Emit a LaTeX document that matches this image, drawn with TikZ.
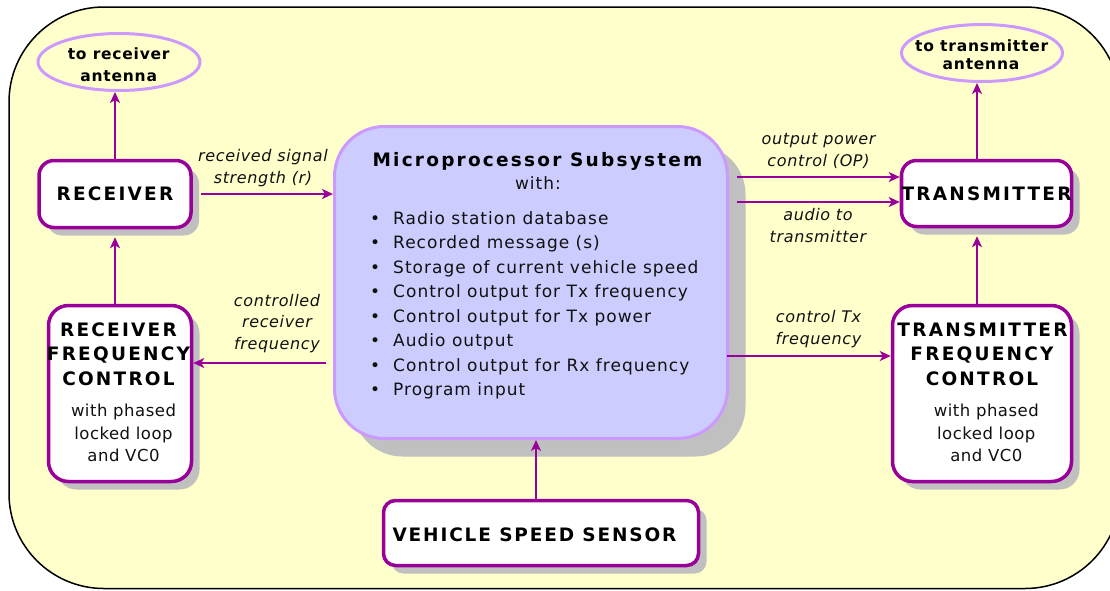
\documentclass[tikz,border=0pt]{standalone}
\usepackage{fontspec}
\setmainfont{DejaVu Sans}
\newfontfamily\bodyfam[LetterSpace=6]{DejaVu Sans}
\newfontfamily\boxfam[LetterSpace=3]{DejaVu Sans}
\newfontfamily\labfam[LetterSpace=4]{DejaVu Sans}
\newfontfamily\antfam[LetterSpace=5]{DejaVu Sans}
\newfontfamily\headfam[LetterSpace=12]{DejaVu Sans}
\newfontfamily\sensfam[LetterSpace=10]{DejaVu Sans}
\usetikzlibrary{shapes.geometric,shadows,arrows.meta}
\definecolor{panelfill}{HTML}{FFFFCC}
\definecolor{boxline}{HTML}{990099}
\definecolor{lilac}{HTML}{CC99FF}
\definecolor{cpufill}{HTML}{CCCCFF}
\definecolor{shade}{HTML}{C0C0C0}
\definecolor{inktext}{HTML}{111111}
\tikzset{
  blk/.style={draw=boxline, line width=3.5pt, fill=white, rounded corners=#1,
    inner sep=0pt,
    drop shadow={shadow xshift=8pt, shadow yshift=-8pt, fill=shade, opacity=1}},
  blk/.default=15pt,
  cpubox/.style={draw=lilac, line width=3pt, fill=cpufill, rounded corners=50pt,
    inner sep=0pt,
    drop shadow={shadow xshift=18pt, shadow yshift=-18pt, fill=shade, opacity=1}},
  ant/.style={ellipse, draw=lilac, line width=3pt, inner sep=0pt},
  conn/.style={draw=boxline, line width=2pt,
    -{Stealth[length=11pt, width=10pt, inset=3pt]}},
  hd/.style={font=\headfam\bfseries\fontsize{18.5}{22}\selectfont, text=black},
  hdl/.style={hd, anchor=base, inner sep=0pt},
  bd/.style={font=\bodyfam\fontsize{17}{20}\selectfont, text=inktext,
    anchor=base, inner sep=0pt},
  bx/.style={font=\boxfam\fontsize{16.5}{20}\selectfont, text=inktext,
    anchor=base, inner sep=0pt},
  lb/.style={font=\labfam\itshape\fontsize{16}{19}\selectfont, text=inktext,
    anchor=base, inner sep=0pt},
  an/.style={font=\antfam\bfseries\fontsize{15.5}{18}\selectfont, text=black,
    anchor=base, inner sep=0pt},
}
\begin{document}
\begin{tikzpicture}[x=1pt, y=-1pt]
\useasboundingbox (0,0) rectangle (1110,590);

% yellow panel
\draw[line width=1.5pt, fill=panelfill, rounded corners=95pt]
  (9,7) rectangle (1120,588.5);

% antennas
\node[ant, minimum width=162pt, minimum height=57pt] (rxant) at (119,62) {};
\node[an] (rxant1) at (118.7,59) {to receiver};
\node[an] (rxant2) at (118.7,81.7) {antenna};
\node[ant, minimum width=161pt, minimum height=57pt] (txant) at (982,53) {};
\node[an] (txant1) at (981.7,51) {to transmitter};
\node[an] (txant2) at (981,69) {antenna};

% receiver side
\node[blk, hd, minimum width=152pt, minimum height=67pt] (rx) at (115,194) {RECEIVER};
\node[blk=20pt, minimum width=143pt, minimum height=176pt] (rfc) at (120,393.5) {};
\node[hdl] (rfc1) at (118.5,336.7) {RECEIVER};
\node[hdl] (rfc2) at (118.5,360.8) {FREQUENCY};
\node[hdl] (rfc3) at (118.5,385.5) {CONTROL};
\node[bx] (rfc4) at (123.5,416) {with phased};
\node[bx] (rfc5) at (123.5,439) {locked loop};
\node[bx] (rfc6) at (123.5,461) {and VC0};

% transmitter side
\node[blk, hd, minimum width=170pt, minimum height=66pt] (tx) at (986.5,193.5) {TRANSMITTER};
\node[blk=20pt, minimum width=179pt, minimum height=176pt] (tfc) at (982,393.5) {};
\node[hdl] (tfc1) at (982.5,336.7) {TRANSMITTER};
\node[hdl] (tfc2) at (982,360.8) {FREQUENCY};
\node[hdl] (tfc3) at (982,385.5) {CONTROL};
\node[bx] (tfc4) at (986.3,416) {with phased};
\node[bx] (tfc5) at (986.3,439) {locked loop};
\node[bx] (tfc6) at (986.3,461) {and VC0};

% speed sensor
\node[blk=12pt, minimum width=315pt, minimum height=65pt] (vss) at (541,533) {};
\node[hdl, font=\sensfam\bfseries\fontsize{18.5}{22}\selectfont] (vsst) at (534.5,541.7) {VEHICLE SPEED SENSOR};

% microprocessor
\node[cpubox, minimum width=393pt, minimum height=312pt] (cpu) at (531,282.5) {};
\node[hdl] (cpu1) at (537.5,166.7) {Microprocessor Subsystem};
\node[bd] (cpu2) at (538,189) {with:};
\foreach \t [count=\i] in {Radio station database, Recorded message (s),
    Storage of current vehicle speed, Control output for Tx frequency,
    Control output for Tx power, Audio output,
    Control output for Rx frequency, Program input}
  \node[bd, anchor=base west] (item\i) at (393,{224.3+24.5*(\i-1)})
    {\llap{\textbullet\hspace{13pt}}\t};

% connectors
\draw[conn] (rx.north) -- (rx.north |- rxant.south);
\draw[conn] (rx.south |- rfc.north) -- ([yshift=-8pt]rx.south);
\draw[conn] ([xshift=8pt]rx.east) -- (rx.east -| cpu.west);
\coordinate (crf) at (326,363);
\draw[conn] (crf) -- (crf -| rfc.east);
\coordinate (opc) at (737,177);
\draw[conn] (opc) -- (opc -| tx.west);
\coordinate (aud) at (737,202);
\draw[conn] (aud) -- (aud -| tx.west);
\coordinate (ctf) at (727,356);
\draw[conn] (ctf) -- (ctf -| tfc.west);
\draw[conn] ([xshift=-9.5pt]tx.north) -- ([xshift=-9.5pt]tx.north |- txant.south);
\draw[conn] ([xshift=-9.5pt]tx.south |- tfc.north) -- ([xshift=-9.5pt,yshift=-8pt]tx.south);
\draw[conn] ([xshift=-5pt]vss.north) -- ([xshift=-5pt]vss.north |- cpu.south);

% connector labels
\node[lb] (l1a) at (263,161) {received signal};
\node[lb] (l1b) at (263,183.3) {strength (r)};
\node[lb] (l2a) at (277,306) {controlled};
\node[lb] (l2b) at (277,327.7) {receiver};
\node[lb] (l2c) at (277,349.3) {frequency};
\node[lb] (l3a) at (818.5,144) {output power};
\node[lb] (l3b) at (818.5,166.7) {control (OP)};
\node[lb] (l4a) at (818,220.7) {audio to};
\node[lb] (l4b) at (818,242.7) {transmitter};
\node[lb] (l5a) at (818.5,322.7) {control Tx};
\node[lb] (l5b) at (818.5,344) {frequency};
\end{tikzpicture}
\end{document}
